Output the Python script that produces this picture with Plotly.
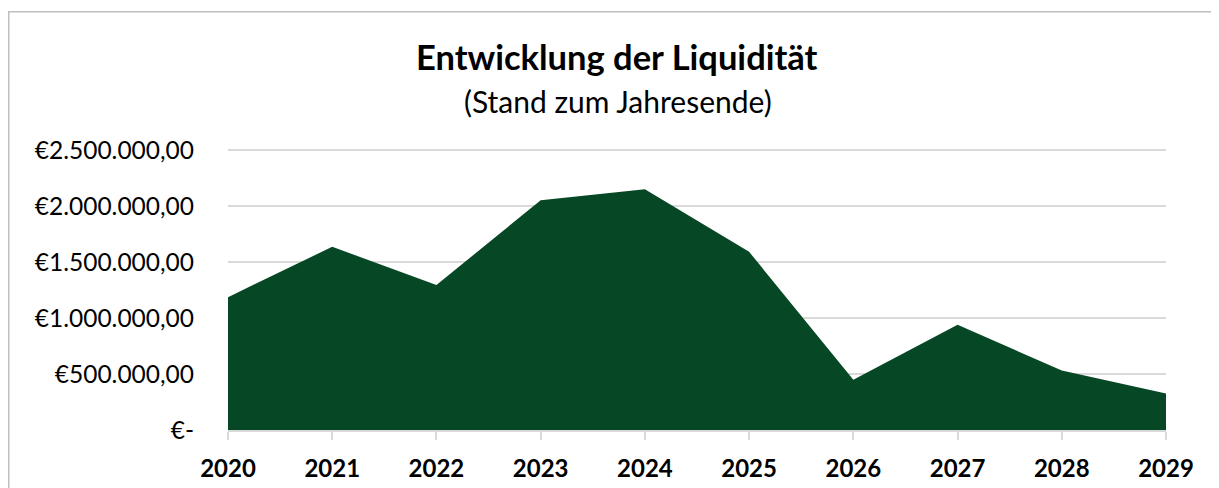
import plotly.graph_objects as go

years = [2020, 2021, 2022, 2023, 2024, 2025, 2026, 2027, 2028, 2029]
liquiditaet = [1187000, 1637000, 1295000, 2053000, 2152000, 1592000, 450000, 941000, 531000, 326000]
y_ticks = [0, 500000, 1000000, 1500000, 2000000, 2500000]
y_labels = ["€-", "€500.000,00", "€1.000.000,00", "€1.500.000,00", "€2.000.000,00", "€2.500.000,00"]

FONT = "Lato, 'Open Sans', sans-serif"
Y_MAX = 2600000  # a bit of head room so the top grid line is drawn

fig = go.Figure()
fig.add_trace(go.Scatter(
    x=years, y=liquiditaet, mode="lines", fill="tozeroy",
    line=dict(width=0, color="#064725"), fillcolor="#064725",
    hoverinfo="x+y", showlegend=False,
))

# page body has an 8px margin -> figure coordinates are reference minus 8
W, H = 1211, 480
axis_y, top_grid_y = 422, 142
L, R, B = 220, 53, H - axis_y
ph = (axis_y - top_grid_y) * Y_MAX / 2500000
T = axis_y - ph
pw = W - L - R

def py(fig_y):
    return (axis_y - fig_y) / ph

def px(fig_x):
    return (fig_x - L) / pw

fig.update_layout(
    width=W, height=H,
    margin=dict(l=L, r=R, t=T, b=B, autoexpand=False),
    paper_bgcolor="white", plot_bgcolor="white",
    font=dict(family=FONT, color="black"),
    xaxis=dict(
        range=[years[0], years[-1]], tickvals=years,
        ticktext=[f"<b>{y}</b>" for y in years],
        tickfont=dict(size=24, family=FONT, color="black"),
        showgrid=False, zeroline=False, automargin=False,
        showline=True, linecolor="#d9d9d9", linewidth=1.5,
        ticks="outside", ticklen=8, tickcolor="#d9d9d9", tickwidth=1.5,
        ticklabelstandoff=8,
    ),
    yaxis=dict(
        range=[0, Y_MAX], tickvals=y_ticks, ticktext=y_labels,
        tickfont=dict(size=24.5, family=FONT, color="black"),
        showgrid=True, gridcolor="#d9d9d9", gridwidth=1.5,
        zeroline=False, showline=False, ticks="", automargin=False,
        ticklabelstandoff=33,
    ),
    annotations=[
        dict(text="<b>Entwicklung der Liquidität</b>", xref="paper", yref="paper",
             x=px(609), y=py(48), xanchor="center", yanchor="middle",
             showarrow=False, font=dict(size=34.5, family=FONT, color="black")),
        dict(text="(Stand zum Jahresende)", xref="paper", yref="paper",
             x=px(609.5), y=py(93), xanchor="center", yanchor="middle",
             showarrow=False, font=dict(size=30, family=FONT, color="black")),
    ],
    shapes=[
        dict(type="rect", xref="paper", yref="paper",
             x0=px(0.75), x1=px(1240), y0=py(520), y1=py(3.5),
             line=dict(color="#bfbfbf", width=1.5), fillcolor="rgba(0,0,0,0)", layer="below"),
    ],
)

fig.write_html("out.html")
